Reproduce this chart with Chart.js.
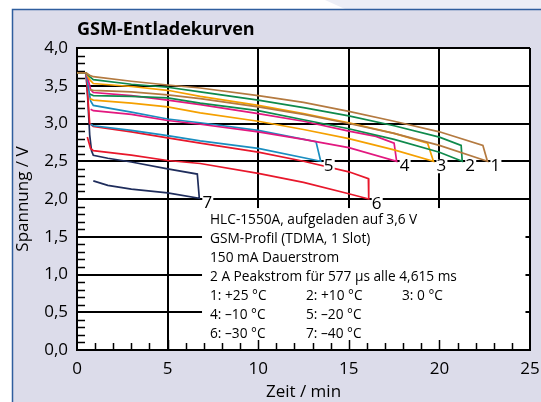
<!DOCTYPE html>
<html>
<head>
<meta charset="utf-8">
<script src="https://cdn.jsdelivr.net/npm/chart.js@4.4.1/dist/chart.umd.min.js"></script>
<style>
html, body { margin: 0; padding: 0; background: #fff; }
#wrap { width: 541px; height: 402px; }
</style>
</head>
<body>
<div id="wrap"><canvas id="chart" width="541" height="402"></canvas></div>
<script>
// Entladekurven: je Temperatur obere Kurve (Dauerstrom) und untere Kurve (Peakstrom), [Zeit min, Spannung V]
const upper1 = [[0,3.67],[0.5,3.67],[0.7,3.64],[0.9,3.62],[3,3.56],[5,3.51],[6.8,3.47],[10,3.37],[12.5,3.28],[15,3.16],[17.5,3.03],[20,2.89],[22.4,2.71]];
const lower1 = [[0.7,3.45],[0.9,3.44],[3,3.42],[5,3.38],[6.8,3.33],[10,3.22],[12.5,3.12],[15,3.00],[17.5,2.87],[20,2.71],[22.65,2.50]];
const upper2 = [[0,3.67],[0.5,3.67],[0.7,3.62],[0.9,3.58],[3,3.52],[5,3.48],[6.8,3.42],[10,3.31],[12.5,3.21],[15,3.10],[17.5,2.97],[20,2.82],[21.2,2.71]];
const lower2 = [[0.7,3.39],[0.9,3.37],[3,3.36],[5,3.34],[6.8,3.27],[10,3.17],[12.5,3.05],[15,2.93],[17.5,2.79],[20,2.62],[21.26,2.50]];
const upper3 = [[0,3.67],[0.5,3.67],[0.7,3.58],[0.9,3.53],[3,3.49],[5,3.44],[6.8,3.36],[10,3.24],[12.5,3.13],[15,3.01],[17.5,2.87],[19.35,2.74]];
const lower3 = [[0.7,3.33],[0.9,3.31],[3,3.27],[5,3.22],[6.8,3.14],[10,3.03],[12.5,2.92],[15,2.80],[17.5,2.65],[19.67,2.50]];
const upper4 = [[0,3.67],[0.5,3.67],[0.6,3.60],[0.75,3.45],[0.9,3.41],[3,3.37],[5,3.31],[6.8,3.25],[10,3.13],[12.5,3.03],[15,2.90],[16.5,2.83],[17.5,2.74]];
const lower4 = [[0.75,3.19],[0.9,3.17],[3,3.12],[5,3.04],[6.8,2.99],[10,2.89],[12.5,2.79],[15,2.68],[17.64,2.50]];
const upper5 = [[0,3.67],[0.5,3.67],[0.6,3.52],[0.75,3.30],[0.9,3.24],[3,3.15],[5,3.06],[6.8,3.01],[10,2.91],[13.19,2.76]];
const lower5 = [[0.75,2.99],[0.9,2.97],[3,2.91],[5,2.84],[6.8,2.77],[10,2.67],[13.45,2.50]];
const upper6 = [[0,3.67],[0.5,3.67],[0.6,3.35],[0.7,3.00],[0.9,2.96],[3,2.89],[5,2.81],[6.8,2.74],[10,2.62],[12.5,2.50],[15,2.36],[16.08,2.27]];
const lower6 = [[0.57,2.82],[0.75,2.67],[0.9,2.64],[3,2.58],[5,2.51],[6.8,2.47],[10,2.34],[12.5,2.22],[15,2.07],[16.1,2.00]];
const upper7 = [[0,3.67],[0.5,3.67],[0.6,3.30],[0.7,2.85],[0.8,2.64],[0.9,2.58],[1.7,2.54],[3,2.49],[5,2.40],[6.64,2.33]];
const lower7 = [[0.9,2.24],[1.7,2.18],[3,2.13],[5,2.08],[6.75,2.01]];

const curveUpper = [upper1, upper2, upper3, upper4, upper5, upper6, upper7];
const curveLower = [lower1, lower2, lower3, lower4, lower5, lower6, lower7];
const curveNames = ['1', '2', '3', '4', '5', '6', '7'];
const curveColors = ['#b47a40', '#0f8a4c', '#f5a000', '#e2187f', '#1a8ec0', '#e8172b', '#1f2d5c'];

const xTicks = [0, 5, 10, 15, 20, 25];
const yTicks = [0, 0.5, 1, 1.5, 2, 2.5, 3, 3.5, 4];

const noteLines = ['HLC-1550A, aufgeladen auf 3,6 V', 'GSM-Profil (TDMA, 1 Slot)', '150 mA Dauerstrom', '2 A Peakstrom für 577 µs alle 4,615 ms'];
const tempRows = [['1: +25 °C', '2: +10 °C', '3: 0 °C'], ['4: –10 °C', '5: –20 °C'], ['6: –30 °C', '7: –40 °C']];

const FONT = '"Open Sans", "DejaVu Sans", sans-serif';

// obere Kurve hin, Abfall zum Endpunkt, untere Kurve zurueck
const datasets = curveUpper.map((up, i) => ({
    label: curveNames[i],
    data: up.concat(curveLower[i].slice().reverse()).map(p => ({ x: p[0], y: p[1] })),
    borderColor: curveColors[i],
    borderWidth: 1.7,
    pointRadius: 0,
    showLine: true,
    fill: false,
    tension: 0
}));

const decor = {
    id: 'decor',
    beforeDraw(chart) {
        const c = chart.ctx;
        const a = chart.chartArea;
        c.save();
        c.fillStyle = '#ffffff';
        c.fillRect(0, 0, 541, 402);
        c.fillStyle = '#eceef6';
        c.beginPath();
        c.moveTo(325, 0); c.lineTo(541, 0); c.lineTo(541, 9); c.lineTo(345, 9);
        c.closePath(); c.fill();
        c.fillStyle = '#dcdcea';
        c.fillRect(12, 9, 529, 393);
        c.strokeStyle = '#2f5e9e';
        c.lineWidth = 1.5;
        c.beginPath();
        c.moveTo(12.5, 402); c.lineTo(12.5, 9.5); c.lineTo(541, 9.5);
        c.stroke();
        c.fillStyle = '#ffffff';
        c.fillRect(a.left, a.top, a.right - a.left, a.bottom - a.top);
        c.fillStyle = '#000';
        c.font = 'bold 18px ' + FONT;
        c.textBaseline = 'middle';
        c.textAlign = 'left';
        c.fillText('GSM-Entladekurven', 77, 30);
        c.restore();
    },
    beforeDatasetsDraw(chart) {
        const c = chart.ctx;
        const xs = chart.scales.x, ys = chart.scales.y;
        const a = chart.chartArea;
        c.save();
        // weisser Kasten fuer die Beschriftung
        const bl = xs.getPixelForValue(6.9), br = xs.getPixelForValue(24.75);
        const bt = ys.getPixelForValue(1.88), bb = a.bottom - 1;
        c.fillStyle = '#ffffff';
        c.fillRect(bl, bt, br - bl, bb - bt);
        // Teilstriche innen
        c.strokeStyle = '#000';
        c.lineWidth = 1.5;
        c.beginPath();
        for (let v = 1; v < 40; v++) {
            if (v % 5 === 0) continue;
            const y = Math.round(ys.getPixelForValue(v / 10)) + 0.5;
            c.moveTo(a.left, y); c.lineTo(a.left + 8, y);
        }
        for (let t = 1; t < 25; t++) {
            const x = Math.round(xs.getPixelForValue(t)) + 0.5;
            const len = t % 5 === 0 ? 10 : 7;
            c.moveTo(x, a.bottom); c.lineTo(x, a.bottom - len);
        }
        c.stroke();
        // Text im Kasten
        c.fillStyle = '#000';
        c.font = '13.7px ' + FONT;
        c.textBaseline = 'middle';
        c.textAlign = 'left';
        const tx = bl + 8;
        let ty = bt + 12;
        noteLines.forEach(s => { c.fillText(s, tx, ty); ty += 19; });
        tempRows.forEach(row => {
            row.forEach((s, j) => c.fillText(s, tx + j * 96, ty));
            ty += 19;
        });
        c.restore();
    },
    afterDatasetsDraw(chart) {
        const c = chart.ctx;
        const xs = chart.scales.x, ys = chart.scales.y;
        c.save();
        c.font = '17px ' + FONT;
        c.textBaseline = 'middle';
        c.textAlign = 'center';
        curveLower.forEach((low, i) => {
            const end = low[low.length - 1];
            const px = xs.getPixelForValue(end[0]) + 8;
            const py = ys.getPixelForValue(end[1]) + 5;
            c.fillStyle = '#ffffff';
            c.fillRect(px - 5, py - 7, 11, 14);
            c.fillStyle = '#000';
            c.fillText(curveNames[i], px, py);
        });
        c.restore();
    }
};

const fmt = v => v.toFixed(1).replace('.', ',');

new Chart(document.getElementById('chart'), {
    type: 'scatter',
    data: { datasets: datasets },
    options: {
        responsive: false,
        animation: false,
        layout: { padding: { left: 13, top: 48, right: 11, bottom: 0 } },
        plugins: { legend: { display: false }, tooltip: { enabled: false } },
        scales: {
            x: {
                type: 'linear',
                min: 0, max: 25,
                afterFit: s => { s.height = 52; s.paddingLeft = 0; s.paddingRight = 0; },
                afterBuildTicks: s => { s.ticks = xTicks.map(v => ({ value: v })); },
                ticks: { color: '#000', font: { family: FONT, size: 17 }, padding: 9, callback: v => String(v) },
                grid: { color: '#000', lineWidth: 2, drawTicks: false },
                border: { color: '#000', width: 2 },
                title: { display: true, text: 'Zeit / min', color: '#000', font: { family: FONT, size: 17 }, padding: { top: 0, bottom: 0 } }
            },
            y: {
                type: 'linear',
                min: 0, max: 4,
                afterFit: s => { s.width = 64; },
                afterBuildTicks: s => { s.ticks = yTicks.map(v => ({ value: v })); },
                ticks: { color: '#000', font: { family: FONT, size: 17 }, padding: 9, callback: v => fmt(v) },
                grid: { color: '#000', lineWidth: 2, drawTicks: false },
                border: { color: '#000', width: 2 },
                title: { display: true, text: 'Spannung / V', color: '#000', font: { family: FONT, size: 17 }, padding: { top: 0, bottom: 0 } }
            }
        }
    },
    plugins: [decor]
});
</script>
</body>
</html>
